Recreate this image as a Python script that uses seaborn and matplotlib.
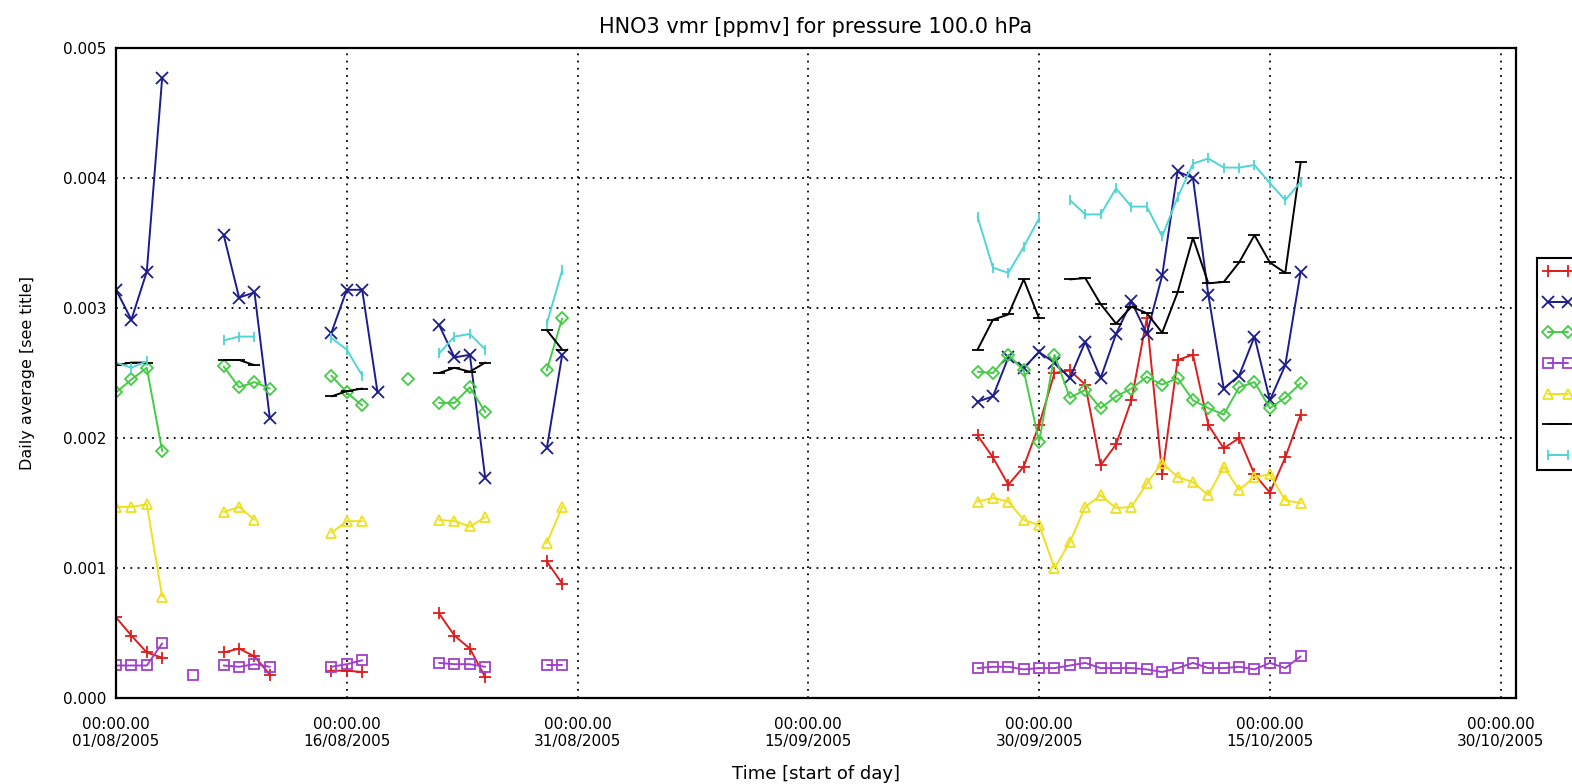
import matplotlib
matplotlib.use('Agg')
import matplotlib.pyplot as plt
from matplotlib.lines import Line2D
import numpy as np
import pandas as pd
import seaborn as sns

# days since 01/08/2005, values in units of 0.001 ppmv
start = pd.Timestamp('2005-08-01')

red_days = [0, 1, 2, 3, 7, 8, 9, 10, 14, 15, 16, 21, 22, 23, 24, 28, 29,
            56, 57, 58, 59, 60, 61, 62, 63, 64, 65, 66, 67, 68, 69, 70, 71, 72, 73, 74, 75, 76, 77]
red_vals = [0.62, 0.48, 0.35, 0.31, 0.35, 0.38, 0.32, 0.18, 0.21, 0.21, 0.20, 0.65, 0.48, 0.38, 0.16, 1.05, 0.88,
            2.02, 1.85, 1.64, 1.78, 2.10, 2.50, 2.52, 2.41, 1.79, 1.95, 2.29, 2.92, 1.72, 2.60, 2.64, 2.10, 1.92,
            2.00, 1.72, 1.58, 1.85, 2.18]

blue_days = [0, 1, 2, 3, 7, 8, 9, 10, 14, 15, 16, 17, 21, 22, 23, 24, 28, 29,
             56, 57, 58, 59, 60, 61, 62, 63, 64, 65, 66, 67, 68, 69, 70, 71, 72, 73, 74, 75, 76, 77]
blue_vals = [3.14, 2.91, 3.28, 4.77, 3.56, 3.08, 3.12, 2.15, 2.81, 3.14, 3.14, 2.35, 2.87, 2.62, 2.64, 1.69, 1.92, 2.64,
             2.28, 2.32, 2.62, 2.54, 2.66, 2.58, 2.46, 2.74, 2.46, 2.80, 3.05, 2.80, 3.25, 4.05, 4.00, 3.10, 2.38,
             2.48, 2.78, 2.29, 2.56, 3.28]

green_days = [0, 1, 2, 3, 7, 8, 9, 10, 14, 15, 16, 19, 21, 22, 23, 24, 28, 29,
              56, 57, 58, 59, 60, 61, 62, 63, 64, 65, 66, 67, 68, 69, 70, 71, 72, 73, 74, 75, 76, 77]
green_vals = [2.35, 2.45, 2.54, 1.90, 2.55, 2.39, 2.43, 2.38, 2.48, 2.35, 2.25, 2.45, 2.27, 2.27, 2.39, 2.20, 2.52, 2.92,
              2.51, 2.50, 2.64, 2.52, 1.97, 2.64, 2.31, 2.37, 2.23, 2.32, 2.38, 2.47, 2.41, 2.46, 2.29, 2.23, 2.18,
              2.39, 2.43, 2.23, 2.31, 2.42]

purple_days = [0, 1, 2, 3, 5, 7, 8, 9, 10, 14, 15, 16, 21, 22, 23, 24, 28, 29,
               56, 57, 58, 59, 60, 61, 62, 63, 64, 65, 66, 67, 68, 69, 70, 71, 72, 73, 74, 75, 76, 77]
purple_vals = [0.25, 0.25, 0.25, 0.42, 0.18, 0.25, 0.24, 0.26, 0.24, 0.24, 0.26, 0.29, 0.27, 0.26, 0.26, 0.24, 0.25, 0.25,
               0.23, 0.24, 0.24, 0.22, 0.23, 0.23, 0.25, 0.27, 0.23, 0.23, 0.23, 0.22, 0.20, 0.23, 0.27, 0.23, 0.23,
               0.24, 0.22, 0.27, 0.23, 0.32]

yellow_days = [0, 1, 2, 3, 7, 8, 9, 14, 15, 16, 21, 22, 23, 24, 28, 29,
               56, 57, 58, 59, 60, 61, 62, 63, 64, 65, 66, 67, 68, 69, 70, 71, 72, 73, 74, 75, 76, 77]
yellow_vals = [1.47, 1.47, 1.49, 0.78, 1.43, 1.47, 1.37, 1.27, 1.36, 1.36, 1.37, 1.36, 1.32, 1.39, 1.19, 1.47,
               1.51, 1.54, 1.51, 1.37, 1.33, 1.00, 1.20, 1.47, 1.56, 1.46, 1.47, 1.65, 1.81, 1.70, 1.66, 1.56, 1.78,
               1.60, 1.70, 1.72, 1.52, 1.50]

black_days = [0, 1, 2, 7, 8, 9, 14, 15, 16, 21, 22, 23, 24, 28, 29,
              56, 57, 58, 59, 60, 62, 63, 64, 65, 66, 67, 68, 69, 70, 71, 72, 73, 74, 75, 76, 77]
black_vals = [2.56, 2.58, 2.58, 2.60, 2.60, 2.56, 2.32, 2.36, 2.38, 2.50, 2.54, 2.51, 2.58, 2.83, 2.68,
              2.68, 2.91, 2.95, 3.22, 2.92, 3.22, 3.23, 3.03, 2.88, 3.01, 2.96, 2.81, 3.12, 3.54, 3.19, 3.20,
              3.35, 3.56, 3.35, 3.27, 4.12]

cyan_days = [0, 1, 2, 7, 8, 9, 14, 15, 16, 21, 22, 23, 24, 28, 29,
             56, 57, 58, 59, 60, 62, 63, 64, 65, 66, 67, 68, 69, 70, 71, 72, 73, 74, 75, 76, 77]
cyan_vals = [2.58, 2.54, 2.59, 2.75, 2.78, 2.78, 2.77, 2.68, 2.48, 2.65, 2.78, 2.80, 2.68, 2.88, 3.29,
             3.70, 3.31, 3.27, 3.47, 3.69, 3.83, 3.72, 3.72, 3.92, 3.78, 3.78, 3.55, 3.85, 4.11, 4.15, 4.08,
             4.08, 4.10, 3.96, 3.83, 3.97]

# legend labels fall outside the picture in the original, so none are shown
legend_labels = ['', '', '', '', '', '', '']

tick_dates = ['2005-08-01', '2005-08-16', '2005-08-31', '2005-09-15', '2005-09-30', '2005-10-15', '2005-10-30']
tick_labels = ['00:00.00\n01/08/2005', '00:00.00\n16/08/2005', '00:00.00\n31/08/2005', '00:00.00\n15/09/2005',
               '00:00.00\n30/09/2005', '00:00.00\n15/10/2005', '00:00.00\n30/10/2005']
y_ticks = [0.0, 0.001, 0.002, 0.003, 0.004, 0.005]

sns.set_style('white')
plt.rcParams['font.family'] = ['DejaVu Sans']
plt.rcParams['text.color'] = 'black'
plt.rcParams['axes.labelcolor'] = 'black'
plt.rcParams['xtick.color'] = 'black'
plt.rcParams['ytick.color'] = 'black'

styles = [
    (red_days, red_vals, '#dc1e1e', '+', 8),
    (blue_days, blue_vals, '#1c1c8c', 'x', 8),
    (green_days, green_vals, '#44cc44', 'D', 6),
    (purple_days, purple_vals, '#a040cc', 's', 7),
    (yellow_days, yellow_vals, '#eee020', '^', 7),
    (black_days, black_vals, '#000000', '_', 9),
    (cyan_days, cyan_vals, '#50d4d4', '|', 7),
]

fig = plt.figure(figsize=(15.72, 7.84), dpi=100)
ax = fig.add_axes([0.0738, 0.1097, 0.8906, 0.8291])

handles = []
for days, vals, col, mk, ms in styles:
    d = np.asarray(days)
    seg = np.concatenate([[0], np.cumsum(np.diff(d) > 1)])
    df = pd.DataFrame({'date': start + pd.to_timedelta(d, unit='D'),
                       'value': np.asarray(vals) * 1e-3,
                       'seg': seg})
    sns.lineplot(data=df, x='date', y='value', units='seg', estimator=None, sort=False,
                 color=col, marker=mk, ms=ms, mfc='none', mec=col, mew=1.3, lw=1.4,
                 legend=False, ax=ax)
    handles.append(Line2D([], [], color=col, marker=mk, ms=ms, mfc='none', mec=col, mew=1.3, lw=1.4))

ax.set_xlim(start, start + pd.Timedelta(days=91))
ax.set_ylim(0, 0.005)
ax.set_xticks(pd.to_datetime(tick_dates))
ax.set_xticklabels(tick_labels, fontsize=11, linespacing=1.1)
ax.set_yticks(y_ticks)
ax.set_yticklabels(['%.3f' % v for v in y_ticks], fontsize=11)
ax.tick_params(axis='both', length=0)
ax.tick_params(axis='x', pad=14)
ax.tick_params(axis='y', pad=7)

ax.grid(True, color='black', linestyle=(0, (1, 3)), linewidth=1.3)
ax.set_axisbelow(True)
for sp in ax.spines.values():
    sp.set_color('black')
    sp.set_linewidth(1.6)

ax.set_title('HNO3 vmr [ppmv] for pressure 100.0 hPa', fontsize=15, pad=11)
ax.set_xlabel('Time [start of day]', fontsize=13)
ax.set_ylabel('Daily average [see title]', fontsize=11.5)
ax.xaxis.set_label_coords(0.5, -0.103)
ax.yaxis.set_label_coords(-0.058, 0.5)

leg = fig.legend(handles, legend_labels, loc='upper left',
                 bbox_to_anchor=(1537 / 1572, 1 - 258 / 784), bbox_transform=fig.transFigure,
                 numpoints=2, handlelength=2.0, fontsize=10, frameon=True, fancybox=False,
                 edgecolor='black', framealpha=1, borderpad=0.5, labelspacing=1.2,
                 handletextpad=0.5, borderaxespad=0)
leg.get_frame().set_linewidth(1.5)

fig.savefig('out.png', dpi=100)
